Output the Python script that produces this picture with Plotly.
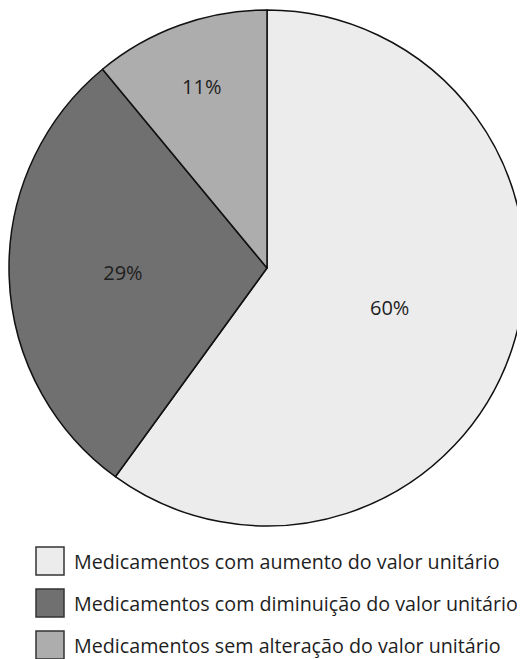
import plotly.graph_objects as go

categories = [
    "Medicamentos com aumento do valor unitário",
    "Medicamentos com diminuição do valor unitário",
    "Medicamentos sem alteração do valor unitário",
]
values = [60, 29, 11]
colors = ["#ececec", "#707070", "#adadad"]

# page has an 8px body margin, so the figure is sized to the visible area
W, H = 517, 651
FONT = "Open Sans"

fig = go.Figure()
fig.add_trace(go.Pie(
    labels=categories,
    values=values,
    sort=False,
    direction="clockwise",
    rotation=0,
    marker=dict(colors=colors, line=dict(color="#111111", width=1.5)),
    textinfo="percent",
    texttemplate="%{percent:.0%}",
    textposition="inside",
    insidetextorientation="horizontal",
    textfont=dict(family=FONT, size=20, color="#1e1e1e"),
    domain=dict(x=[1 / W, 1], y=[(H - 519) / H, (H - 1) / H]),
    showlegend=False,
    hoverinfo="label+percent",
))

# Custom legend (large squares, wide row spacing)
shapes = []
annotations = []
left, size, top0, step = 28, 28, 539, 42
for i, (lab, col) in enumerate(zip(categories, colors)):
    y0 = top0 + i * step
    shapes.append(dict(
        type="rect", xref="paper", yref="paper",
        x0=left / W, x1=(left + size) / W,
        y0=(H - y0 - size) / H, y1=(H - y0) / H,
        fillcolor=col, line=dict(color="#333333", width=1.5),
    ))
    annotations.append(dict(
        xref="paper", yref="paper", x=64 / W, y=(H - y0 - size / 2) / H,
        xanchor="left", yanchor="middle", text=lab, showarrow=False,
        font=dict(family=FONT, size=19.7, color="#1e1e1e"),
    ))

fig.update_layout(
    width=W, height=H,
    margin=dict(l=0, r=0, t=0, b=0),
    paper_bgcolor="white", plot_bgcolor="white",
    shapes=shapes, annotations=annotations,
)

fig.write_html("out.html")
